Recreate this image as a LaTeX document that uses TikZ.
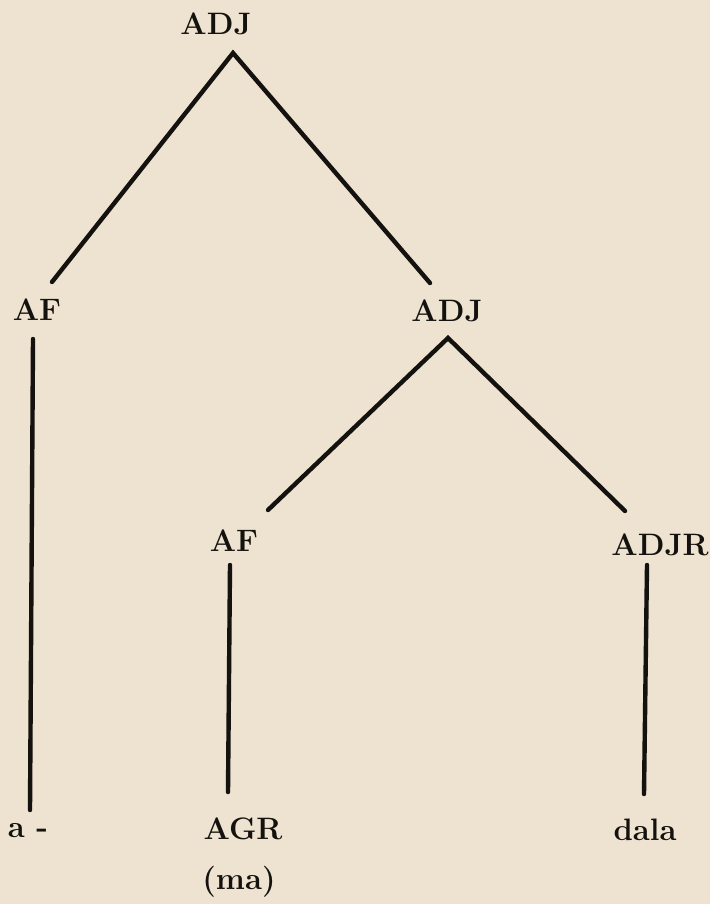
\documentclass[tikz,border=0pt]{standalone}
\definecolor{paper}{RGB}{238,226,208}
\definecolor{ink}{RGB}{20,18,14}
\begin{document}
\begin{tikzpicture}[x=1pt,y=-1pt,
  lab/.style={font=\fontsize{31}{33}\selectfont\bfseries, text=ink, inner sep=0pt},
  edge/.style={draw=ink, line width=4.4pt, line cap=round}]
\fill[paper] (0,0) rectangle (710,904);
\useasboundingbox (0,0) rectangle (710,904);
% labels
\node[lab] (adj1) at (216,24) {ADJ};
\node[lab] (af1) at (37,310) {AF};
\node[lab] (adj2) at (447,311) {ADJ};
\node[lab] (af2) at (234,541) {AF};
\node[lab] (adjr) at (660,545) {ADJR};
\node[lab] (a) at (28,831) {a -};
\node[lab] (agr) at (243,829) {AGR};
\node[lab] (ma) at (239,882) {(ma)};
\node[lab] (dala) at (645,830) {dala};
% connector ends
\coordinate (adj1b) at (233,53);
\coordinate (af1t) at (52,282);
\coordinate (adj2t) at (430,283);
\coordinate (af1b) at (33,339);
\coordinate (ab) at (30,810);
\coordinate (adj2b) at (448,338);
\coordinate (af2t) at (268,510);
\coordinate (adjrt) at (625,511);
\coordinate (af2b) at (230,565);
\coordinate (agrt) at (228,792);
\coordinate (adjrb) at (647,565);
\coordinate (dalat) at (644,794);
% connectors
\draw[edge] (af1t) -- (adj1b) -- (adj2t);
\draw[edge] (af1b) -- (ab);
\draw[edge] (af2t) -- (adj2b) -- (adjrt);
\draw[edge] (af2b) -- (agrt);
\draw[edge] (adjrb) -- (dalat);
\end{tikzpicture}
\end{document}
